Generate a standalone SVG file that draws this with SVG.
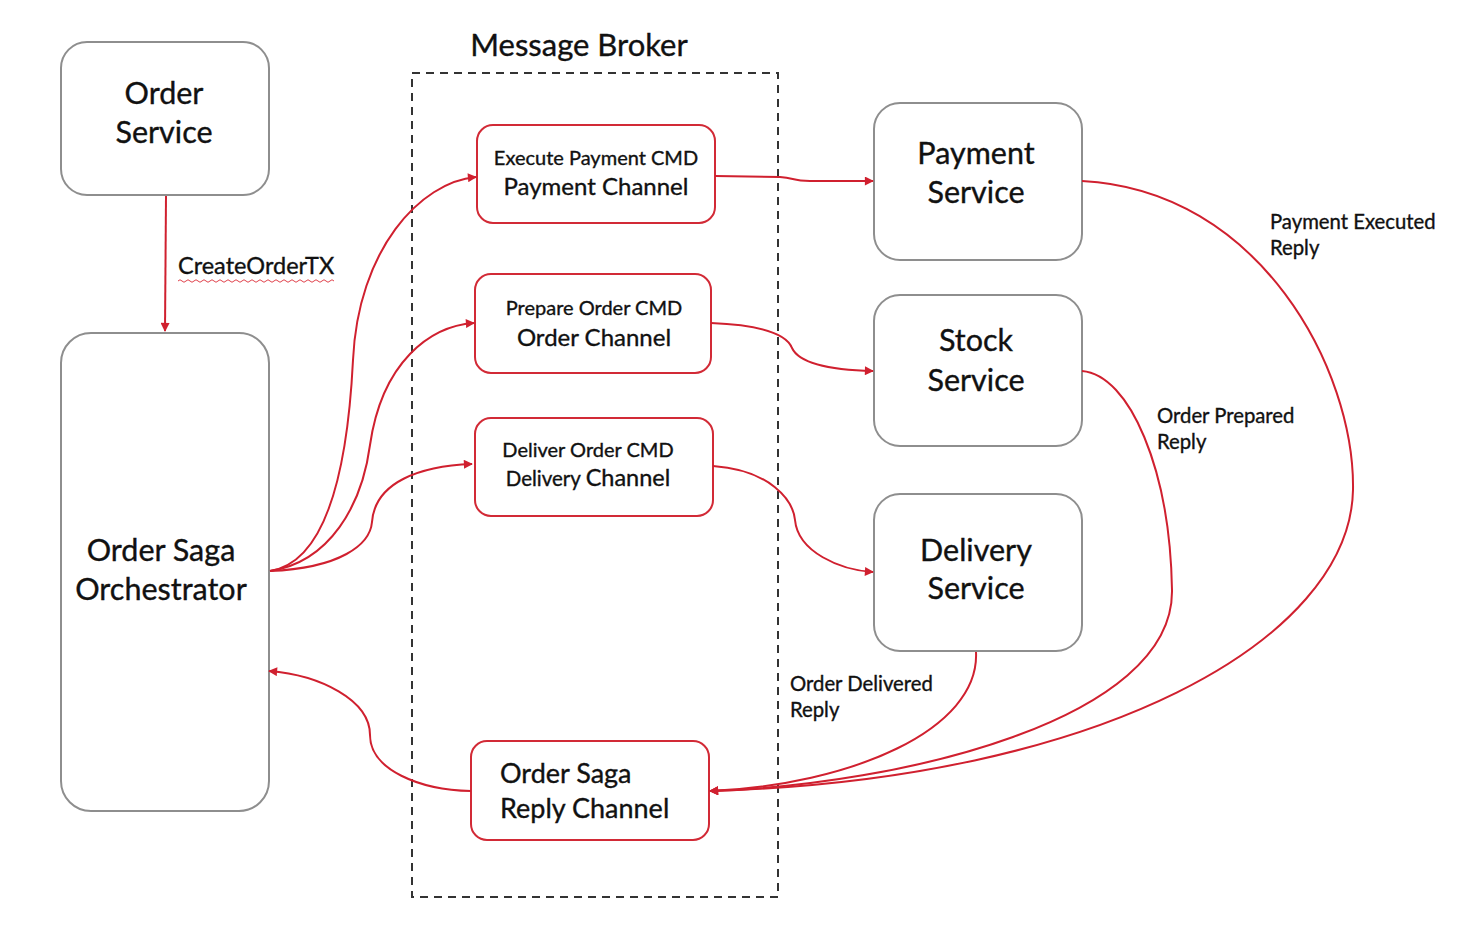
<svg xmlns="http://www.w3.org/2000/svg" width="1480" height="934" viewBox="0 0 1480 934">
<style>
  .svc { fill: #ffffff; stroke: #8e8e8e; stroke-width: 2; }
  .chan { fill: #ffffff; stroke: #d22a36; stroke-width: 2; }
  .t { font-family: Lato, "Noto Sans", "DejaVu Sans", sans-serif; fill: #111111; stroke: #111111; stroke-width: 0.35; }
  .big { font-size: 30.5px; text-anchor: middle; }
  .mid { font-size: 24px; text-anchor: middle; }
  .small { font-size: 20px; text-anchor: middle; }
  .lbl { font-size: 20.3px; }
  .conn { fill: none; stroke: #d0202f; stroke-width: 2; }
</style>
<defs>
  <marker id="arr" viewBox="0 0 10 10" refX="9" refY="5" markerWidth="11" markerHeight="9" orient="auto" markerUnits="userSpaceOnUse">
    <path d="M0,0 L10,5 L0,10 z" fill="#d0202f"/>
  </marker>
</defs>
<rect width="1480" height="934" fill="#ffffff"/>

<g id="message-broker">
  <rect x="412" y="73" width="366" height="824" fill="none" stroke="#333333" stroke-width="2" stroke-dasharray="8,6"/>
  <text class="t" x="579" y="56" font-size="31" text-anchor="middle">Message Broker</text>
</g>

<g id="order-service">
  <rect class="svc" x="61" y="42" width="208" height="153" rx="26"/>
  <text class="t big" x="164" y="104">Order</text>
  <text class="t big" x="164" y="143">Service</text>
</g>

<g id="orchestrator">
  <rect class="svc" x="61" y="333" width="208" height="478" rx="30"/>
  <text class="t big" x="161" y="561">Order Saga</text>
  <text class="t big" x="161" y="600">Orchestrator</text>
</g>

<g id="payment-channel">
  <rect class="chan" x="477" y="125" width="238" height="98" rx="16"/>
  <text class="t small" x="596" y="165">Execute Payment CMD</text>
  <text class="t mid" x="596" y="195">Payment Channel</text>
</g>

<g id="order-channel">
  <rect class="chan" x="475" y="274" width="236" height="99" rx="16"/>
  <text class="t small" x="594" y="315">Prepare Order CMD</text>
  <text class="t mid" x="594" y="346">Order Channel</text>
</g>

<g id="delivery-channel">
  <rect class="chan" x="475" y="418" width="238" height="98" rx="16"/>
  <text class="t small" x="588" y="457">Deliver Order CMD</text>
  <text class="t" x="588" y="486" text-anchor="middle"><tspan font-size="20.5">Delivery </tspan><tspan font-size="23.5">Channel</tspan></text>
</g>

<g id="reply-channel">
  <rect class="chan" x="471" y="741" width="238" height="99" rx="16"/>
  <text class="t" x="500" y="783" font-size="27">Order Saga</text>
  <text class="t" x="500" y="818" font-size="27">Reply Channel</text>
</g>

<g id="payment-service">
  <rect class="svc" x="874" y="103" width="208" height="157" rx="26"/>
  <text class="t big" x="976" y="164">Payment</text>
  <text class="t big" x="976" y="203">Service</text>
</g>

<g id="stock-service">
  <rect class="svc" x="874" y="295" width="208" height="151" rx="26"/>
  <text class="t big" x="976" y="351">Stock</text>
  <text class="t big" x="976" y="391">Service</text>
</g>

<g id="delivery-service">
  <rect class="svc" x="874" y="494" width="208" height="157" rx="26"/>
  <text class="t big" x="976" y="561">Delivery</text>
  <text class="t big" x="976" y="599">Service</text>
</g>

<g id="connectors">
  <path class="conn" d="M166,196 L165,331" marker-end="url(#arr)"/>
  <path class="conn" d="M270,571 C340,560 350,420 353,360 C358,250 420,182 476,177" marker-end="url(#arr)"/>
  <path class="conn" d="M270,571 C330,562 362,505 370,445 C382,362 430,326 474,323" marker-end="url(#arr)"/>
  <path class="conn" d="M270,571 C340,568 370,545 372,522 C375,482 420,466 472,464" marker-end="url(#arr)"/>
  <path class="conn" d="M715,176 L780,177 C795,178 792,181 810,181 L873,181" marker-end="url(#arr)"/>
  <path class="conn" d="M711,323 C760,325 786,333 792,348 C799,363 830,370 873,371" marker-end="url(#arr)"/>
  <path class="conn" d="M713,466 C770,470 793,500 795,520 C798,552 840,570 873,572" marker-end="url(#arr)"/>
  <path class="conn" d="M1082,181 C1260,190 1355,370 1353,490 C1350,640 1100,780 710,791" marker-end="url(#arr)"/>
  <path class="conn" d="M1082,371 C1130,375 1170,470 1172,590 C1174,720 900,785 710,791" marker-end="url(#arr)"/>
  <path class="conn" d="M976,652 C980,730 850,785 710,791" marker-end="url(#arr)"/>
  <path class="conn" d="M471,791 C420,790 370,770 370,735 C370,700 320,675 269,671" marker-end="url(#arr)"/>
</g>

<g id="labels">
  <text class="t" x="178" y="274" font-size="23.5">CreateOrderTX</text>
  <path d="M178,281 q2,-2.5 4,0 t4,0 t4,0 t4,0 t4,0 t4,0 t4,0 t4,0 t4,0 t4,0 t4,0 t4,0 t4,0 t4,0 t4,0 t4,0 t4,0 t4,0 t4,0 t4,0 t4,0 t4,0 t4,0 t4,0 t4,0 t4,0 t4,0 t4,0 t4,0 t4,0 t4,0 t4,0 t4,0 t4,0 t4,0 t4,0 t4,0 t4,0 t4,0" fill="none" stroke="#e0404a" stroke-width="1"/>
  <text class="t lbl" x="1270" y="229">Payment Executed</text>
  <text class="t lbl" x="1270" y="255">Reply</text>
  <text class="t lbl" x="1157" y="423">Order Prepared</text>
  <text class="t lbl" x="1157" y="449">Reply</text>
  <text class="t lbl" x="790" y="691">Order Delivered</text>
  <text class="t lbl" x="790" y="717">Reply</text>
</g>
</svg>
